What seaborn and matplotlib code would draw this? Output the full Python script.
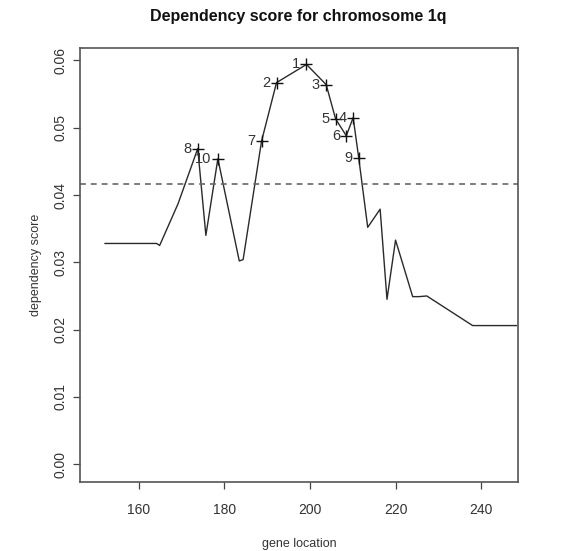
# Dependency score along chromosome 1q
import numpy as np
import seaborn as sns
import matplotlib.pyplot as plt

# Gene location vs dependency score (line trace)
gene_pos = [152.1, 164.2, 164.9, 169.2, 173.8, 175.7, 178.5, 183.5, 184.4,
            188.7, 192.2, 199.2, 203.8, 206.0, 208.5, 210.1, 211.4, 213.5,
            216.4, 218.0, 220.0, 224.0, 225.5, 227.3, 238.0, 248.3]
dep_score = [0.0328, 0.0328, 0.0325, 0.0387, 0.0469, 0.0340, 0.0454, 0.0302,
             0.0304, 0.0480, 0.0567, 0.0594, 0.0564, 0.0513, 0.0488, 0.0515,
             0.0455, 0.0352, 0.0379, 0.0245, 0.0333, 0.0249, 0.0249, 0.0250,
             0.0206, 0.0206]

# Top 10 ranked locations
top_rank = [1, 2, 3, 4, 5, 6, 7, 8, 9, 10]
top_pos = [199.2, 192.2, 203.8, 210.1, 206.0, 208.5, 188.7, 173.8, 211.4, 178.5]
top_score = [0.0594, 0.0567, 0.0564, 0.0515, 0.0513, 0.0488, 0.0480, 0.0469,
             0.0455, 0.0454]

threshold = 0.0416

sns.set_style("white")
plt.rcParams['font.family'] = ['Liberation Sans', 'DejaVu Sans']

fig = plt.figure(figsize=(5.75, 5.51), dpi=100)
ax = fig.add_axes([80 / 575, 1 - 481.7 / 551, (518 - 80) / 575, (481.7 - 48.3) / 551])

sns.lineplot(x=gene_pos, y=dep_score, ax=ax, sort=False, estimator=None,
             color="#2a2a2a", linewidth=1.0)
sns.scatterplot(x=top_pos, y=top_score, ax=ax, marker="+", s=85,
                color="#111111", linewidth=1.0, zorder=3)
for r, px, py in zip(top_rank, top_pos, top_score):
    ax.annotate(str(r), (px, py), xytext=(-4.5, 0), textcoords="offset points",
                ha="right", va="center", fontsize=10.5, color="#333333")

ax.axhline(threshold, color="#666666", linewidth=1.2, linestyle=(0, (3.5, 3)))

ax.set_xlim(146.3, 248.6)
ax.set_ylim(-0.0026, 0.0618)
ax.set_xticks([160, 180, 200, 220, 240])
ax.set_yticks([0.00, 0.01, 0.02, 0.03, 0.04, 0.05, 0.06])
ax.set_yticklabels(["0.00", "0.01", "0.02", "0.03", "0.04", "0.05", "0.06"],
                   rotation=90, va="center")
ax.tick_params(axis="both", direction="out", length=5, width=0.9,
               color="#444444", labelsize=10, labelcolor="#333333", left=True, bottom=True)
ax.tick_params(axis="x", pad=10.5)
ax.tick_params(axis="y", pad=4)
for s in ax.spines.values():
    s.set_color("#555555")
    s.set_linewidth(1.2)

ax.set_xlabel("gene location", fontsize=9, color="#333333", labelpad=15)
ax.set_ylabel("dependency score", fontsize=9, color="#333333", labelpad=8)
fig.text(298 / 575, 1 - 17 / 551, "Dependency score for chromosome 1q",
         ha="center", va="center", fontsize=11.5, fontweight="bold", color="#111111")

fig.savefig("out.png", dpi=100)
